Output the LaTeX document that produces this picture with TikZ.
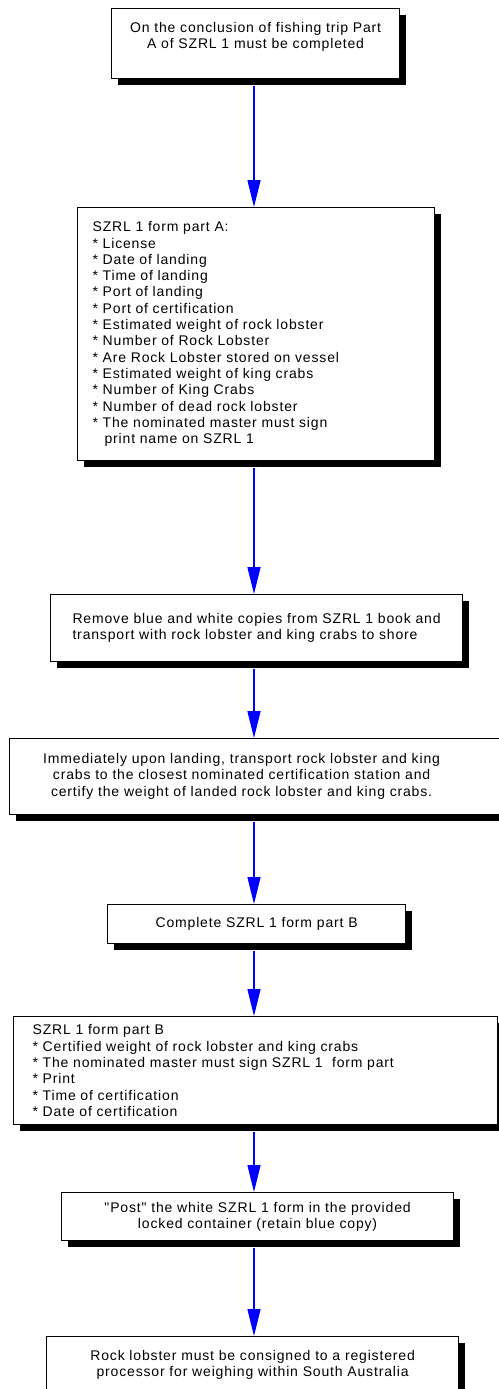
\documentclass[tikz,border=0pt]{standalone}
\usepackage{fontspec}
\setmainfont{Liberation Sans}
\newfontfamily\flowfont[LetterSpace=6]{Liberation Sans}
\usetikzlibrary{arrows.meta, positioning, shadows}
\newcommand{\itemstar}{* }

\begin{document}
\begin{tikzpicture}[
        x=1pt, y=-1pt,
        stepbox/.style={draw, line width=1.2pt, fill=white, anchor=north west,
            inner xsep=15pt, inner ysep=2pt,
            font=\flowfont\fontsize{14}{16.3}\selectfont,
            drop shadow={shadow xshift=6.5pt, shadow yshift=-6.5pt, fill=black, opacity=1}},
        flow/.style={-{Triangle[length=27pt, width=13pt]}, blue, line width=1.3pt, shorten <=6.5pt}
    ]
    \useasboundingbox (0,0) rectangle (498,1389);
    \coordinate (axis) at (254,0);

    \node[stepbox, minimum width=288pt, minimum height=70pt, align=center] (trip) at (111,8)
        {On the conclusion of fishing trip Part\\A of SZRL 1 must be completed\\ \mbox{}};

    \node[stepbox, minimum height=253pt, text width=327pt, align=left] (partA) at (77,207)
        {SZRL 1 form part A:\\
        \itemstar License\\
        \itemstar Date of landing\\
        \itemstar Time of landing\\
        \itemstar Port of landing\\
        \itemstar Port of certification\\
        \itemstar Estimated weight of rock lobster\\
        \itemstar Number of Rock Lobster\\
        \itemstar Are Rock Lobster stored on vessel\\
        \itemstar Estimated weight of king crabs\\
        \itemstar Number of King Crabs\\
        \itemstar Number of dead rock lobster\\
        \itemstar The nominated master must sign\\
        \hspace*{12pt}print name on SZRL 1};

    \node[stepbox, minimum width=412pt, minimum height=67pt, inner xsep=16pt, align=left] (copies) at (50,594)
        {Remove blue and white copies from SZRL 1 book and\\transport with rock lobster and king crabs to shore};

    \node[stepbox, minimum width=500pt, minimum height=76pt] (landing) at (9,738)
        {\begin{tabular}{@{}c@{}}
        Immediately upon landing, transport rock lobster and king\\
        crabs to the closest nominated certification station and\\
        certify the weight of landed rock lobster and king crabs.
        \end{tabular}\hspace*{36pt}};

    \node[stepbox, minimum width=298pt, minimum height=39pt] (partB) at (107,904)
        {Complete SZRL 1 form part B};

    \node[stepbox, minimum height=108pt, inner xsep=19pt, text width=446pt, align=left] (formB) at (13,1016)
        {SZRL 1 form part B\\
        \itemstar Certified weight of rock lobster and king crabs\\
        \itemstar The nominated master must sign SZRL 1\ \ form part\\
        \itemstar Print\\
        \itemstar Time of certification\\
        \itemstar Date of certification};

    \node[stepbox, minimum width=392pt, minimum height=48pt, align=center] (post) at (61,1192)
        {"Post" the white SZRL 1 form in the provided\\locked container (retain blue copy)};

    \node[stepbox, minimum width=412pt, minimum height=57pt, align=center] (processor) at (46,1336)
        {Rock lobster must be consigned to a registered\\processor for weighing within South Australia};

    \draw[flow] (trip.south -| axis) -- (partA.north -| axis);
    \draw[flow] (partA.south -| axis) -- (copies.north -| axis);
    \draw[flow] (copies.south -| axis) -- (landing.north -| axis);
    \draw[flow] (landing.south -| axis) -- (partB.north -| axis);
    \draw[flow] (partB.south -| axis) -- (formB.north -| axis);
    \draw[flow] (formB.south -| axis) -- (post.north -| axis);
    \draw[flow] (post.south -| axis) -- (processor.north -| axis);

    \end{tikzpicture}
\end{document}
